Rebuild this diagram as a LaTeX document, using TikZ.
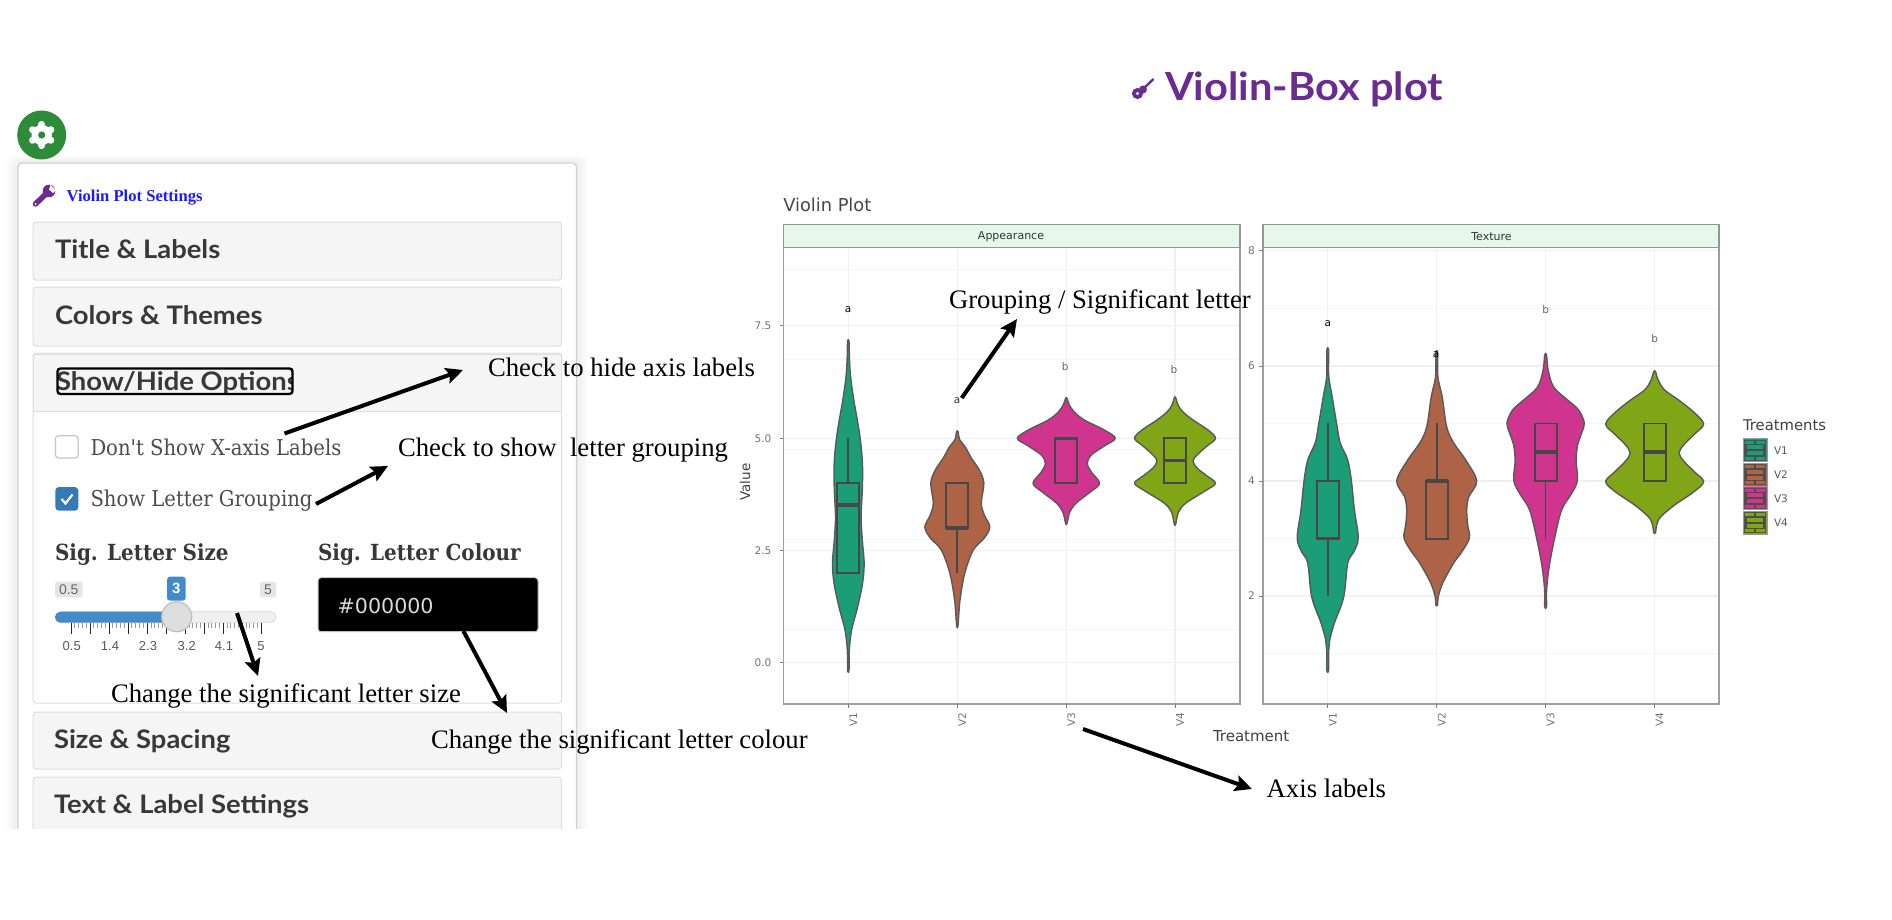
\documentclass[tikz,border=0pt]{standalone}
\usepackage{fontspec}
\usetikzlibrary{arrows.meta}
\setmainfont{Liberation Serif}
\newfontfamily\rale[FakeStretch=1.075]{Lato}
\newfontfamily\uiserif{DejaVu Serif Condensed}
\newfontfamily\plotf{DejaVu Sans}
\newfontfamily\arial{Liberation Sans}
\newcommand\fs[1]{\fontsize{#1}{#1}\selectfont}
\definecolor{cA}{HTML}{1B9E77}
\definecolor{cB}{HTML}{AF6346}
\definecolor{cC}{HTML}{CF348F}
\definecolor{cD}{HTML}{80A617}
\definecolor{purp}{HTML}{6B2C91}
\definecolor{slblue}{HTML}{428BCA}
\definecolor{headbg}{HTML}{F5F5F5}
\definecolor{stripbg}{HTML}{E6F7EC}
\definecolor{stripline}{HTML}{8A9A90}
\definecolor{geargreen}{HTML}{2E8B37}
\tikzset{
 txt/.style={inner sep=0pt,outer sep=0pt,anchor=base west},
 note/.style={txt,font=\fs{26.7},black},
 callout/.style={-{Stealth[length=17pt,width=16pt,inset=3pt]},line width=4pt,black},
 head/.style={fill=headbg,draw=black!13,line width=1pt,rounded corners=3pt},
 headtxt/.style={txt,font=\rale\bfseries\fs{25.5},text=black!78},
 uilabel/.style={txt,font=\uiserif\fs{21.8},text=black!70},
 uibold/.style={txt,font=\uiserif\bfseries\fs{22.2},text=black!78},
 gridmaj/.style={line width=1.3pt,color=black!6},
 gridmin/.style={line width=.8pt,color=black!4},
 frameline/.style={draw=black!38,line width=1.6pt},
 striprect/.style={fill=stripbg,draw=stripline,line width=1.4pt},
 axlab/.style={inner sep=0pt,font=\plotf\fs{10.5},text=black!55},
 sigletter/.style={inner sep=0pt,font=\plotf\fs{10.5}},
 bx/.style={draw=black!72,line width=1.8pt},
 med/.style={draw=black!72,line width=3.2pt},
 wh/.style={draw=black!72,line width=1.7pt},
 badge/.style={fill=black!10,rounded corners=2.5pt},
 sltick/.style={inner sep=0pt,font=\arial\fs{13},text=black!65},
}
% violin: center, colour, y:halfwidth list
\newcommand\violin[3]{%
 \gdef\ptsL{}\gdef\ptsR{}%
 \foreach \yy/\ww in {#3}{%
  \pgfmathsetmacro\xl{#1-\ww}\pgfmathsetmacro\xr{#1+\ww}%
  \xdef\ptsL{\ptsL (\xr,\yy)}\xdef\ptsR{(\xl,\yy) \ptsR}%
 }%
 \edef\tmpdraw{\noexpand\draw[fill=#2,draw=black!65,line width=1.4pt,line join=round] plot[smooth cycle,tension=.55] coordinates {\ptsL\ptsR};}%
 \tmpdraw
}
\begin{document}
\begin{tikzpicture}[x=1pt,y=-1pt]
\useasboundingbox (0,0) rectangle (1892,920);
\fill[white] (0,0) rectangle (1892,920);

% ---------- settings panel
\begin{scope}
\clip (0,0) rectangle (700,828);
\foreach \s in {1,...,8}{
 \fill[black,opacity=.007,rounded corners=6pt] ({18-1.6*\s},{163-\s}) rectangle ({576.5+1.6*\s},{880});
}
\draw[fill=white,draw=black!18,line width=1.2pt,rounded corners=4pt] (18,163) rectangle (576.5,880);
\draw[head] (33,222) rectangle (561.5,280);
\draw[head] (33,287) rectangle (561.5,346);
\draw[draw=black!13,fill=white,line width=1pt,rounded corners=3pt] (33,353) rectangle (561.5,703);
\draw[head,rounded corners=0pt] (33.5,354) rectangle (561,411);
\draw[head] (33,712) rectangle (561.5,769);
\draw[head] (33,777) rectangle (561.5,860);
\end{scope}

% gear
\fill[geargreen] (41.7,135) circle (24.5);
\fill[white] (41.7,135) circle (10.2);
\foreach \a in {30,90,...,330}{\draw[white,line width=7pt,line cap=round] (41.7,135) -- ({41.7+10.6*cos(\a)},{135+10.6*sin(\a)});}
\fill[geargreen] (41.7,135) circle (3.6);

% wrench
\draw[purp,line width=5.5pt,line cap=round] (35.5,204) -- (47,193);
\fill[purp] (49,191) circle (6.3);
\fill[white] (50.5,185) -- (56,190) -- (53,193) -- (49,189.5) -- cycle;
\fill[white] (35.5,204) circle (1);

\node[txt,font=\bfseries\fs{16.6},text={rgb,255:red,26;green,26;blue,255}] (settitle) at (66.7,201.7) {Violin Plot Settings};
\node[headtxt] (h1) at (55,258) {Title \& Labels};
\node[headtxt] (h2) at (55,324) {Colors \& Themes};
\begin{scope}
\clip (57.5,360) rectangle (292,400);
\node[headtxt] (h3) at (56,390) {Show/Hide Options};
\end{scope}
\draw[black,line width=2.4pt,rounded corners=3pt] (57.5,368.5) rectangle (292.5,394);
\node[headtxt] (h4) at (54,748) {Size \& Spacing};
\node[headtxt] (h5) at (54,813) {Text \& Label Settings};

% checkboxes
\draw[fill=white,draw=black!22,line width=1.2pt,rounded corners=3pt] (55.4,435.7) rectangle (78.3,458);
\node[uilabel] (cb1) at (90.5,455) {Don't Show X-axis Labels};
\fill[color={rgb,255:red,51;green,122;blue,183},rounded corners=3.5pt] (55.4,487) rectangle (78.3,510.7);
\draw[white,line width=2.2pt] (61.5,499) -- (65.5,503.5) -- (72.5,494.5);
\node[uilabel] (cb2) at (90.5,506.7) {Show Letter Grouping};

% inputs
\node[uibold] (sl) at (55,560) {Sig. Letter Size};
\node[uibold] (sc) at (318,560) {Sig. Letter Colour};

% slider
\fill[badge] (55,581.7) rectangle (82.7,597.3);
\node[sltick,font=\arial\fs{14},text=black!60] (bmin) at (68.8,589.5) {0.5};
\fill[badge] (260,581.7) rectangle (276,597.3);
\node[sltick,font=\arial\fs{14},text=black!60] (bmax) at (268,589.5) {5};
\fill[slblue,rounded corners=3pt] (167,576.7) rectangle (185.7,600.7);
\node[inner sep=0pt,font=\arial\bfseries\fs{15},text=white] (bval) at (176.3,588.7) {3};
\draw[draw=black!15,fill=black!6,rounded corners=5.5pt,line width=.8pt] (55,611.7) rectangle (276,622.7);
\fill[slblue,rounded corners=5.5pt] (55,611.7) rectangle (178,622.7);
\foreach \i in {0,...,50}{
 \pgfmathsetmacro\tx{71+3.806*\i}
 \pgfmathtruncatemacro\rem{mod(\i,5)}
 \ifnum\rem=0
  \draw[black!85,line width=1pt] (\tx,622.7) -- (\tx,634);
 \else
  \draw[black!40,line width=.8pt] (\tx,622.7) -- (\tx,628);
 \fi
}
\draw[fill=black!13,draw=black!25,line width=1.2pt] (176.7,616.7) circle (15);
\foreach \n/\lab/\tx in {a/0.5/71.7,b/1.4/110,c/2.3/148,d/3.2/186.7,e/4.1/224,f/5/261}{
 \node[sltick,anchor=base] (st\n) at (\tx,650.7) {\lab};
}
\draw[fill=black,draw=black!25,line width=1pt,rounded corners=3pt] (318,577.7) rectangle (538,631.7);
\node[txt,font=\plotf\fs{20.6},text=black!15] (colhex) at (337.7,613) {\#000000};

% ---------- heading
\fill[purp] (1137.5,93.5) circle (5.6);
\fill[purp] (1143,89.5) circle (4);
\draw[purp,line width=2.4pt] (1143,89) -- (1153.5,79);
\fill[white] (1137.5,93.5) circle (1.7);
\node[txt,font=\rale\bfseries\fs{38.7},text=purp] (maintitle) at (1165,101) {Violin-Box plot};
\node[txt,font=\plotf\fs{17.8},text=black!72] (plottitle) at (783.3,211.7) {Violin Plot};

% ---------- left facet
\foreach \v in {269.5,359.5,449.5,539.5,629.5}{\draw[gridmin] (783.3,\v) -- (1240,\v);}
\foreach \v in {325.7,438.3,550.7,662.7}{\draw[gridmaj] (783.3,\v) -- (1240,\v);}
\foreach \xc in {848.3,957.3,1066.3,1175}{\draw[gridmaj] (\xc,247.3) -- (\xc,704);}
\violin{848.3}{cA}{341.7/.7,360/1.2,376/2.2,390/4,403/6,420/9,437/11.7,455/13.6,470/14.3,490/14,517/12.8,540/14,563/15.8,583/14.3,607/9.3,630/3.3,650/1,670/.7}
\violin{957.3}{cB}{431.7/.7,440/2.5,447/8,458/14,470/22,483/26.5,503/24,515/27,527/32.5,538/27,550/16,573/7.5,600/2.7,625/.7}
\violin{1066.3}{cC}{398.3/.7,405/3,412/8,420/18,430/38,438.3/49,446/38,455/25,463.3/21,472/25,483.3/33.3,492/24,503/10,512/3.5,523.3/.7}
\violin{1175}{cD}{397.7/.7,405/3,412/8,420/18,430/33,438.3/40.5,446/32,455/22,461/18,468/22,476/32,483.3/40.5,491/30,503/11,512/3.5,524/.7}
% boxes
\draw[wh] (848.3,438.3) -- (848.3,483.3);
\draw[bx] (837.3,483.3) rectangle (859.3,573.3);
\draw[med] (837.3,505) -- (859.3,505);
\draw[wh] (957.3,528) -- (957.3,573.3);
\draw[bx] (946.3,483.3) rectangle (968.3,528);
\draw[med] (946.3,528) -- (968.3,528);
\draw[bx] (1055.3,438.3) rectangle (1077.3,483.3);
\draw[med] (1055.3,438.3) -- (1077.3,438.3);
\draw[bx] (1164,438.3) rectangle (1186,483.3);
\draw[med] (1164,460.7) -- (1186,460.7);
\draw[frameline] (783.3,224.3) rectangle (1240,704);
\draw[striprect] (783.3,224.3) rectangle (1240,247.3);
\node[inner sep=0pt,font=\plotf\fs{11},text=black!80] (stripa) at (1011,236.3) {Appearance};
\foreach \n/\lab/\v in {a/7.5/325.7,b/5.0/438.3,c/2.5/550.7,d/0.0/662.7}{
 \draw[black!50,line width=1pt] (779.5,\v) -- (783.3,\v);
 \node[axlab] (ly\n) at (763,\v) {\lab};
}
\foreach \n/\xc in {1/848.3,2/957.3,3/1066.3,4/1175}{
 \draw[black!50,line width=1pt] (\xc,704) -- (\xc,708);
 \node[axlab,rotate=90] (lx\n) at (\xc+5,719.5) {V\n};
}
\node[sigletter,text=black] (sa1) at (848,310) {a};
\node[sigletter,text=black!80] (sa2) at (957,401) {a};
\node[sigletter,text=black!60] (sa3) at (1065.3,366.7) {b};
\node[sigletter,text=black!60] (sa4) at (1174,370) {b};

% ---------- right facet
\foreach \v in {308.4,423.4,538.6,653.8}{\draw[gridmin] (1262.9,\v) -- (1719,\v);}
\foreach \v in {250.7,366,481,596}{\draw[gridmaj] (1262.9,\v) -- (1719,\v);}
\foreach \xc in {1327.7,1436.7,1545.6,1654.6}{\draw[gridmaj] (\xc,247.3) -- (\xc,704);}
\violin{1327.7}{cA}{350.7/.9,376/1,397/4.5,427/9.5,443/12.5,460/20,481/23.7,510/26.7,538/30.5,552/26,563/20,597/16,623/6.7,640/2,650/1,670/.9}
\violin{1436.7}{cB}{353.3/.9,377/1.2,397/5.5,427/10,443/17,460/29,481/40,497/32,510/30,525/31,538/32.7,552/25,563/17,583/6,597/1.5,605/.9}
\violin{1545.6}{cC}{355/.9,370/2.5,387/8,400/22,410/33,423/38.7,433/36,445/32,460/30.5,481/31.7,495/25,510/16,538/9,567/3.5,590/1,606.7/.9}
\violin{1654.6}{cD}{371.7/.9,380/3.5,390/10,400/24,412/39,424/49,434/40,445/29,453/24.5,461/29,472/40,481.7/49,492/39,505/20,517/6,525/2,532.7/.9}
\draw[wh] (1327.7,423.4) -- (1327.7,481);
\draw[wh] (1327.7,538.6) -- (1327.7,596);
\draw[bx] (1316.7,481) rectangle (1338.7,538.6);
\draw[med] (1316.7,538.6) -- (1338.7,538.6);
\draw[wh] (1436.7,423.4) -- (1436.7,481);
\draw[bx] (1425.7,481) rectangle (1447.7,538.6);
\draw[med] (1425.7,481) -- (1447.7,481);
\draw[wh] (1545.6,481) -- (1545.6,538.6);
\draw[bx] (1534.6,423.4) rectangle (1556.6,481);
\draw[med] (1534.6,452) -- (1556.6,452);
\draw[bx] (1643.6,423.4) rectangle (1665.6,481);
\draw[med] (1643.6,452) -- (1665.6,452);
\draw[frameline] (1262.9,224.3) rectangle (1719,704);
\draw[striprect] (1262.9,224.3) rectangle (1719,247.3);
\node[inner sep=0pt,font=\plotf\fs{11},text=black!80] (stripb) at (1491.5,236.3) {Texture};
\foreach \n/\lab/\v in {a/8/250.7,b/6/366,c/4/481,d/2/596}{
 \draw[black!50,line width=1pt] (1259,\v) -- (1262.9,\v);
 \node[axlab] (ry\n) at (1251.5,\v) {\lab};
}
\foreach \n/\xc in {1/1327.7,2/1436.7,3/1545.6,4/1654.6}{
 \draw[black!50,line width=1pt] (\xc,704) -- (\xc,708);
 \node[axlab,rotate=90] (rx\n) at (\xc+5,719.5) {V\n};
}
\node[sigletter,text=black] (sb1) at (1327.7,323.3) {a};
\node[sigletter,text=black] (sb2) at (1436,355) {a};
\node[sigletter,text=black!60] (sb3) at (1545.6,310) {b};
\node[sigletter,text=black!60] (sb4) at (1654.6,339) {b};

% axis titles
\node[inner sep=0pt,rotate=90,font=\plotf\fs{13.5},text=black!75] (yaxt) at (745,482) {Value};
\node[txt,font=\plotf\fs{15},text=black!75] (xaxt) at (1213,741.7) {Treatment};

% ---------- legend
\node[txt,font=\plotf\fs{14.8},text=black!75] (legt) at (1743,430) {Treatments};
\foreach \n/\c/\yt in {1/cA/438.7,2/cB/463,3/cC/486.7,4/cD/511}{
 \pgfmathsetmacro\yb{\yt+23.2}
 \pgfmathsetmacro\ym{\yt+11.6}
 \draw[fill=\c,draw=black!40,line width=1pt] (1743,\yt) rectangle (1767,\yb);
 \draw[draw=black!68,line width=1.2pt] (1744.5,\yt+1.8) rectangle (1765.5,\yb-1.8);
 \draw[draw=black!70,line width=1.2pt] (1755,\yt+1.8) -- (1755,\yt+6);
 \draw[draw=black!70,line width=1.2pt] (1755,\yb-6) -- (1755,\yb-1.8);
 \draw[draw=black!70,line width=1.2pt] (1746,\yt+6) rectangle (1764,\yb-6);
 \draw[draw=black!70,line width=1.8pt] (1746,\ym) -- (1764,\ym);
 \node[txt,anchor=west,font=\plotf\fs{10.5},text=black!65] (legl\n) at (1774,\ym) {V\n};
}

% ---------- annotation labels
\node[note] (nhide) at (488,376.7) {Check to hide axis labels};
\node[note] (nshow) at (398,456.7) {Check to show\ \ letter grouping};
\node[note] (nsize) at (111,702.7) {Change the significant letter size};
\node[note] (ncol) at (431,748) {Change the significant letter colour};
\node[note] (ngrp) at (949,308) {Grouping / Significant letter};
\node[note] (naxis) at (1266.7,797.7) {Axis labels};

% ---------- arrows
\coordinate (a1s) at (284.5,433.5); \coordinate (a1e) at (463,370);
\coordinate (a2s) at (316,504);     \coordinate (a2e) at (388,466);
\coordinate (a3s) at (237,613);     \coordinate (a3e) at (258,676);
\coordinate (a4s) at (463.4,631);   \coordinate (a4e) at (507,713);
\coordinate (a5s) at (961.7,398);   \coordinate (a5e) at (1017,319);
\coordinate (a6s) at (1083,729);    \coordinate (a6e) at (1252,789);
\draw[callout] (a1s) -- (a1e);
\draw[callout] (a2s) -- (a2e);
\draw[callout] (a3s) -- (a3e);
\draw[callout] (a4s) -- (a4e);
\draw[callout] (a5s) -- (a5e);
\draw[callout] (a6s) -- (a6e);
\end{tikzpicture}
\end{document}
